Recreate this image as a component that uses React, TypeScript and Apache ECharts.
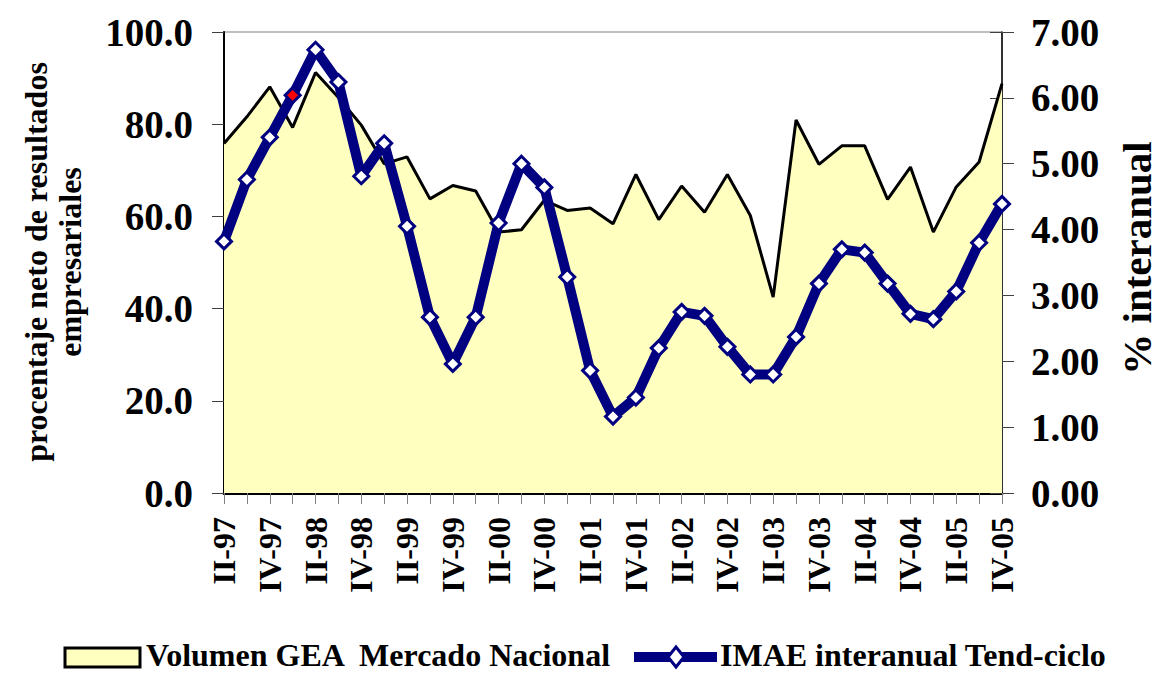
import React, { useEffect, useRef } from "react";
import * as echarts from "echarts";

const categories = [
  "II-97", "III-97", "IV-97",
  "I-98", "II-98", "III-98", "IV-98",
  "I-99", "II-99", "III-99", "IV-99",
  "I-00", "II-00", "III-00", "IV-00",
  "I-01", "II-01", "III-01", "IV-01",
  "I-02", "II-02", "III-02", "IV-02",
  "I-03", "II-03", "III-03", "IV-03",
  "I-04", "II-04", "III-04", "IV-04",
  "I-05", "II-05", "III-05", "IV-05",
];

const volumenGEA = [
  75.8, 81.6, 88.1, 79.3, 91.2, 85.8, 79.8, 71.4, 72.9, 63.8, 66.7, 65.5,
  56.6, 57.1, 63.5, 61.3, 61.8, 58.4, 69.1, 59.3, 66.6, 60.9, 69.1, 60.2,
  42.5, 80.9, 71.3, 75.3, 75.3, 63.7, 70.7, 56.6, 66.4, 71.8, 88.8,
];

const imaeInteranual = [
  3.82, 4.76, 5.40, 6.04, 6.73, 6.24, 4.81, 5.31, 4.05, 2.67, 1.96, 2.67,
  4.10, 5.00, 4.64, 3.28, 1.86, 1.16, 1.45, 2.20, 2.75, 2.69, 2.22, 1.80,
  1.80, 2.37, 3.18, 3.70, 3.65, 3.18, 2.72, 2.64, 3.06, 3.80, 4.39,
];

const highlightIndex = 3;

const leftAxis = { min: 0, max: 100, interval: 20 };
const rightAxis = { min: 0, max: 7, interval: 1 };

const seriesNames = ["Volumen GEA  Mercado Nacional", "IMAE interanual Tend-ciclo"];
const leftAxisName = ["procentaje neto de resultados", "empresariales"];
const rightAxisName = "% interanual";

const FONT = '"Liberation Serif", "Times New Roman", serif';
const NAVY = "#000080";
const FILL = "#FFFFC0";

export default function App() {
  const ref = useRef<HTMLDivElement>(null);

  useEffect(() => {
    if (!ref.current) return;
    const chart = echarts.init(ref.current, null, { renderer: "svg" });

    const imaeData = imaeInteranual.map((v, i) =>
      i === highlightIndex
        ? { value: v, itemStyle: { color: "#FF0000", borderColor: NAVY } }
        : v
    );

    const option: any = {
      animation: false,
      backgroundColor: "#FFFFFF",
      grid: {
        left: 224,
        right: 157,
        top: 32,
        bottom: 181,
        show: true,
        borderColor: "#808080",
        borderWidth: 1,
        backgroundColor: "transparent",
      },
      xAxis: {
        type: "category",
        data: categories,
        boundaryGap: false,
        axisLine: { lineStyle: { color: "#000", width: 3 } },
        axisTick: {
          show: true,
          interval: 0,
          length: 11,
          lineStyle: { color: "#808080", width: 1 },
        },
        axisLabel: {
          interval: 1,
          rotate: 90,
          margin: 24,
          color: "#000",
          fontFamily: FONT,
          fontWeight: "bold",
          fontSize: 32,
        },
        splitLine: { show: false },
      },
      yAxis: [
        {
          type: "value",
          position: "left",
          min: leftAxis.min,
          max: leftAxis.max,
          interval: leftAxis.interval,
          axisLine: { show: true, lineStyle: { color: "#000", width: 2 } },
          axisTick: { show: true, length: 12, lineStyle: { color: "#404040" } },
          axisLabel: {
            margin: 31,
            color: "#000",
            fontFamily: FONT,
            fontWeight: "bold",
            fontSize: 39,
            formatter: (v: number) => v.toFixed(1),
          },
          splitLine: { show: false },
        },
        {
          type: "value",
          position: "right",
          min: rightAxis.min,
          max: rightAxis.max,
          interval: rightAxis.interval,
          axisLine: { show: true, lineStyle: { color: "#000", width: 1.5 } },
          axisTick: { show: true, length: 12, lineStyle: { color: "#404040" } },
          axisLabel: {
            margin: 29,
            color: "#000",
            fontFamily: FONT,
            fontWeight: "bold",
            fontSize: 39,
            formatter: (v: number) => v.toFixed(2),
          },
          splitLine: { show: false },
        },
        {
          type: "value",
          position: "right",
          min: rightAxis.min,
          max: rightAxis.max,
          interval: rightAxis.interval,
          axisLine: { show: false },
          axisTick: { show: true, inside: true, length: 12, lineStyle: { color: "#404040" } },
          axisLabel: { show: false },
          splitLine: { show: false },
        },
      ],
      series: [
        {
          name: seriesNames[0],
          type: "line",
          yAxisIndex: 0,
          data: volumenGEA,
          showSymbol: false,
          symbol: "none",
          lineStyle: { color: "#000", width: 3 },
          areaStyle: { color: FILL, opacity: 1 },
          z: 1,
        },
        {
          name: seriesNames[1],
          type: "line",
          yAxisIndex: 1,
          data: imaeData,
          symbol: "diamond",
          symbolSize: 15,
          showSymbol: true,
          showAllSymbol: true,
          lineStyle: { color: NAVY, width: 10 },
          itemStyle: { color: "#FFFFFF", borderColor: NAVY, borderWidth: 3 },
          z: 3,
        },
      ],
      graphic: [
        {
          type: "text",
          x: 36,
          y: 262,
          rotation: Math.PI / 2,
          style: {
            text: leftAxisName[0],
            font: `bold 32px ${FONT}`,
            fill: "#000",
            textAlign: "center",
            textVerticalAlign: "middle",
          },
        },
        {
          type: "text",
          x: 70,
          y: 262,
          rotation: Math.PI / 2,
          style: {
            text: leftAxisName[1],
            font: `bold 32px ${FONT}`,
            fill: "#000",
            textAlign: "center",
            textVerticalAlign: "middle",
          },
        },
        {
          type: "text",
          x: 1137,
          y: 258,
          rotation: Math.PI / 2,
          style: {
            text: rightAxisName,
            font: `bold 41px ${FONT}`,
            fill: "#000",
            textAlign: "center",
            textVerticalAlign: "middle",
          },
        },
        {
          type: "rect",
          shape: { x: 65, y: 648, width: 75, height: 19 },
          style: { fill: FILL, stroke: "#000", lineWidth: 3 },
        },
        {
          type: "text",
          x: 146,
          y: 655,
          style: {
            text: seriesNames[0],
            font: `bold 32px ${FONT}`,
            fill: "#000",
            textAlign: "left",
            textVerticalAlign: "middle",
          },
        },
        {
          type: "line",
          shape: { x1: 634, y1: 657, x2: 717, y2: 657 },
          style: { stroke: NAVY, lineWidth: 10 },
        },
        {
          type: "polygon",
          shape: { points: [[676, 647], [684, 657], [676, 667], [668, 657]] },
          style: { fill: "#FFFFFF", stroke: NAVY, lineWidth: 3 },
        },
        {
          type: "text",
          x: 720,
          y: 655,
          style: {
            text: seriesNames[1],
            font: `bold 32px ${FONT}`,
            fill: "#000",
            textAlign: "left",
            textVerticalAlign: "middle",
          },
        },
      ],
    };

    chart.setOption(option);
    return () => chart.dispose();
  }, []);

  return (
    <div
      ref={ref}
      style={{ position: "fixed", left: 0, top: 0, width: 1159, height: 674 }}
    />
  );
}
